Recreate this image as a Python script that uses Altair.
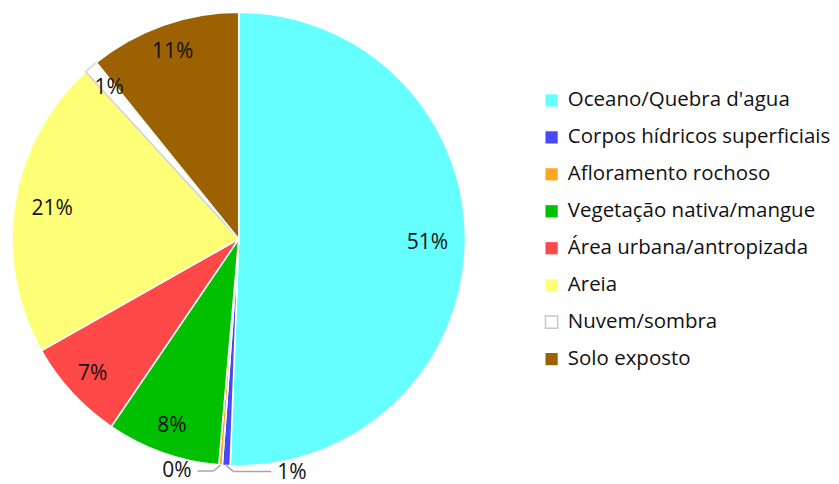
import altair as alt
import pandas as pd

categories = [
    "Oceano/Quebra d'agua",
    "Corpos hídricos superficiais",
    "Afloramento rochoso",
    "Vegetação nativa/mangue",
    "Área urbana/antropizada",
    "Areia",
    "Nuvem/sombra",
    "Solo exposto",
]
values = [50.6, 0.55, 0.25, 8.1, 7.3, 21.4, 1.0, 10.8]
labels = ["51%", "1%", "0%", "8%", "7%", "21%", "1%", "11%"]
colors = ["#66FFFF", "#4848F8", "#FFA522", "#00C000", "#FF4848", "#FFFF77", "#FFFFFF", "#9C6100"]

df = pd.DataFrame({
    "cat": categories,
    "value": values,
    "label": labels,
    "idx": list(range(len(categories))),
})

FONT = "Open Sans"
FS = 21
LFS = 20.5
R = 227
small = ["Corpos hídricos superficiais", "Afloramento rochoso"]

color_scale = alt.Scale(domain=categories, range=colors)

base = alt.Chart(df)

arcs = base.mark_arc(outerRadius=R, strokeWidth=1.5).encode(
    theta=alt.Theta("value:Q", stack=True),
    order=alt.Order("idx:Q"),
    color=alt.Color(
        "cat:N",
        scale=color_scale,
        sort=categories,
        legend=alt.Legend(
            title=None,
            orient="none",
            legendX=534,
            legendY=82,
            labelFont=FONT,
            labelFontSize=LFS,
            labelColor="#111111",
            labelLimit=400,
            symbolType="square",
            symbolSize=150,
            symbolStrokeWidth=1.5,
            symbolStrokeColor={"expr": "datum.value === 'Nuvem/sombra' ? '#c8c8c8' : 'transparent'"},
            rowPadding=16,
            labelOffset=6,
        ),
    ),
    stroke=alt.condition(
        alt.datum.cat == "Nuvem/sombra", alt.value("#d0d0d0"), alt.value("white")
    ),
)

# cumulative angles are computed over all slices, then only the wanted labels are drawn
text_base = base.transform_window(
    cum="sum(value)", sort=[alt.SortField("idx")], frame=[None, 0]
).transform_calculate(mid="datum.cum - datum.value/2")
inside = [c for c in categories if c not in small]

theta_mid = alt.Theta("mid:Q", stack=None, scale=alt.Scale(domain=[0, 100]))

text_big = text_base.transform_filter(
    alt.FieldOneOfPredicate(field="cat", oneOf=inside)
).transform_filter("datum.value > 15").mark_text(
    font=FONT, fontSize=FS, color="#111111", radius=189
).encode(
    theta=theta_mid,
    text="label:N",
)
text_small = text_base.transform_filter(
    alt.FieldOneOfPredicate(field="cat", oneOf=inside)
).transform_filter("datum.value <= 15").mark_text(
    font=FONT, fontSize=FS, color="#111111", radius=199
).encode(
    theta=theta_mid,
    text="label:N",
)

half = 231
xs = alt.Scale(domain=[-half, half])
ys = alt.Scale(domain=[-half, half])

leader_base = (
    base.transform_window(cum="sum(value)", sort=[alt.SortField("idx")], frame=[None, 0])
    .transform_joinaggregate(total="sum(value)")
    .transform_filter(alt.FieldOneOfPredicate(field="cat", oneOf=small))
    .transform_calculate(
        a="2*PI*(datum.cum - datum.value/2)/datum.total",
        side="datum.cat === 'Corpos hídricos superficiais' ? 1 : -1",
        run="datum.cat === 'Corpos hídricos superficiais' ? 38 : 16",
    )
    .transform_calculate(
        x0=f"{R}*sin(datum.a)",
        y0=f"{R}*cos(datum.a)",
    )
    .transform_calculate(
        x1="datum.x0 + datum.side*7",
        y1="datum.y0 - 6",
    )
    .transform_calculate(
        x2="datum.x1 + datum.side*datum.run",
        xt="datum.x2 + datum.side*6",
    )
)

seg1 = leader_base.mark_rule(color="#a6a6a6", strokeWidth=1.5).encode(
    x=alt.X("x0:Q", scale=xs, axis=None),
    y=alt.Y("y0:Q", scale=ys, axis=None),
    x2="x1:Q",
    y2="y1:Q",
)
seg2 = leader_base.mark_rule(color="#a6a6a6", strokeWidth=1.5).encode(
    x=alt.X("x1:Q", scale=xs, axis=None),
    y=alt.Y("y1:Q", scale=ys, axis=None),
    x2="x2:Q",
)
out_right = leader_base.transform_filter("datum.side > 0").mark_text(
    font=FONT, fontSize=FS, color="#111111", align="left", baseline="middle", dy=2
).encode(
    x=alt.X("xt:Q", scale=xs, axis=None),
    y=alt.Y("y1:Q", scale=ys, axis=None),
    text="label:N",
)
out_left = leader_base.transform_filter("datum.side < 0").mark_text(
    font=FONT, fontSize=FS, color="#111111", align="right", baseline="middle", dy=0
).encode(
    x=alt.X("xt:Q", scale=xs, axis=None),
    y=alt.Y("y1:Q", scale=ys, axis=None),
    text="label:N",
)

chart = (
    alt.layer(arcs, text_big, text_small, seg1, seg2, out_right, out_left)
    .resolve_scale(theta="independent")
    .properties(width=462, height=462, padding=0, background="white")
    .configure_view(strokeWidth=0, stroke="transparent")
)

chart.save("out.html", embed_options={"renderer": "svg", "actions": False})
